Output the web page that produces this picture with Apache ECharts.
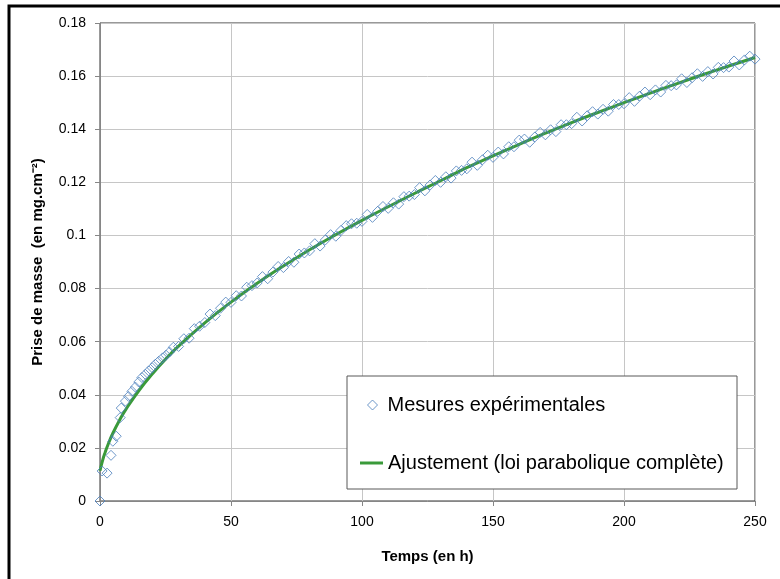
<!DOCTYPE html>
<html><head><meta charset="utf-8">
<script src="https://cdn.jsdelivr.net/npm/echarts@6/dist/echarts.min.js"></script>
<style>html,body{margin:0;padding:0;background:#fff}#c{width:780px;height:579px}</style>
</head><body><div id="c"></div>
<script>
// Measured mass gain (mg.cm-2) vs time (h)
const measureTimes = [0, 0.8, 2.7, 4.2, 4.9, 6.2, 7.7, 8.1, 9.7, 10.9, 12.2, 13.5, 14.8, 16.0, 17.3, 18.6, 19.9, 21.1, 22.4, 23.9, 25.2, 26.5,
  28, 30, 32, 34, 36, 38, 40, 42, 44, 46, 48, 50, 52, 54, 56, 58, 60, 62, 64, 66, 68, 70, 72, 74, 76, 78, 80,
  82, 84, 86, 88, 90, 92, 94, 96, 98, 100, 102, 104, 106, 108, 110, 112, 114, 116, 118, 120, 122, 124, 126, 128, 130,
  132, 134, 136, 138, 140, 142, 144, 146, 148, 150, 152, 154, 156, 158, 160, 162, 164, 166, 168, 170, 172, 174, 176, 178, 180,
  182, 184, 186, 188, 190, 192, 194, 196, 198, 200, 202, 204, 206, 208, 210, 212, 214, 216, 218, 220, 222, 224, 226, 228, 230,
  232, 234, 236, 238, 240, 242, 244, 246, 248, 250];
const measureValues = [0, 0.0113, 0.0105, 0.0172, 0.0225, 0.0244, 0.0314, 0.0350, 0.0376, 0.0394, 0.0413, 0.0429, 0.0448, 0.0465, 0.0477, 0.0490, 0.0502, 0.0515, 0.0526, 0.0539, 0.0549, 0.0561,
  0.0579, 0.0582, 0.0611, 0.0613, 0.0649, 0.0658, 0.0672, 0.0704, 0.0698, 0.0726, 0.0749, 0.0748, 0.0773, 0.0772, 0.0805, 0.0811, 0.0821, 0.0845, 0.0837, 0.0862, 0.0883, 0.0879, 0.0902, 0.0899, 0.0930, 0.0934, 0.0942,
  0.0969, 0.0960, 0.0983, 0.1003, 0.0997, 0.1019, 0.1037, 0.1044, 0.1046, 0.1053, 0.1079, 0.1068, 0.1091, 0.1109, 0.1102, 0.1123, 0.1118, 0.1146, 0.1148, 0.1154, 0.1180, 0.1168, 0.1190, 0.1207, 0.1200,
  0.1221, 0.1216, 0.1243, 0.1245, 0.1251, 0.1276, 0.1264, 0.1285, 0.1302, 0.1294, 0.1314, 0.1307, 0.1334, 0.1334, 0.1359, 0.1363, 0.1351, 0.1371, 0.1388, 0.1379, 0.1398, 0.1391, 0.1417, 0.1417, 0.1421,
  0.1445, 0.1431, 0.1451, 0.1466, 0.1457, 0.1475, 0.1468, 0.1493, 0.1493, 0.1496, 0.1519, 0.1505, 0.1525, 0.1540, 0.1530, 0.1548, 0.1540, 0.1565, 0.1564, 0.1567, 0.1590, 0.1576, 0.1594, 0.1609, 0.1599,
  0.1617, 0.1608, 0.1633, 0.1632, 0.1634, 0.1657, 0.1642, 0.1661, 0.1675, 0.1664];
// Fitted curve (complete parabolic law)
const fitTimes = [0, 1, 2, 3, 5, 7.5, 10, 15, 20, 25, 30, 40, 50, 60, 70, 80, 90, 100, 110, 120, 130, 140, 150, 160, 170, 180, 190, 200, 210, 220, 230, 240, 250];
const fitValues = [0.0114, 0.0153, 0.0184, 0.0211, 0.0257, 0.0305, 0.0347, 0.0418, 0.0479, 0.0534, 0.0583, 0.0671, 0.0749, 0.0820, 0.0885, 0.0946, 0.1003, 0.1057, 0.1108, 0.1158, 0.1206, 0.1255, 0.1300, 0.1343, 0.1385, 0.1425, 0.1463, 0.1500, 0.1536, 0.1571, 0.1605, 0.1638, 0.1670];
const seriesNames = ['Mesures expérimentales', 'Ajustement (loi parabolique complète)'];
const xAxisTitle = 'Temps (en h)';
const yAxisTitle = 'Prise de masse  (en mg.cm\u207B\u00B2)';
const xTickMin = 0, xTickMax = 250, xTickStep = 50;
const yTickMin = 0, yTickMax = 0.18, yTickStep = 0.02;

const FONT = 'Liberation Sans';
const chart = echarts.init(document.getElementById('c'), null, {renderer: 'canvas'});
const textBase = {fontFamily: FONT, color: '#000'};
chart.setOption({
  animation: false,
  backgroundColor: '#fff',
  grid: {left: 100, right: 25, top: 23, bottom: 78, show: true, borderColor: '#333', borderWidth: 1, backgroundColor: 'transparent'},
  xAxis: {
    type: 'value', min: xTickMin, max: xTickMax, interval: xTickStep,
    name: xAxisTitle, nameLocation: 'middle', nameGap: 48,
    nameTextStyle: Object.assign({}, textBase, {fontSize: 15, fontWeight: 'bold'}),
    axisLine: {show: true, onZero: false, lineStyle: {color: '#868686', width: 1}},
    axisTick: {show: true, length: 5, lineStyle: {color: '#868686'}},
    axisLabel: Object.assign({}, textBase, {fontSize: 14, margin: 14}),
    splitLine: {show: true, lineStyle: {color: '#c6c6c6', width: 1}}
  },
  yAxis: {
    type: 'value', min: yTickMin, max: yTickMax, interval: yTickStep,
    name: yAxisTitle, nameLocation: 'middle', nameGap: 55,
    nameTextStyle: Object.assign({}, textBase, {fontSize: 15, fontWeight: 'bold'}),
    axisLine: {show: true, onZero: false, lineStyle: {color: '#868686', width: 1}},
    axisTick: {show: true, length: 5, lineStyle: {color: '#868686'}},
    axisLabel: Object.assign({}, textBase, {fontSize: 14, margin: 14}),
    splitLine: {show: true, lineStyle: {color: '#c6c6c6', width: 1}}
  },
  legend: [
    {
      data: [{name: seriesNames[0], icon: 'diamond'}], orient: 'vertical', left: 367, top: 395,
      itemWidth: 10, itemHeight: 10, padding: 0, selectedMode: false,
      itemStyle: {color: '#fff', borderColor: '#4A7EBB', borderWidth: 1},
      textStyle: Object.assign({}, textBase, {fontSize: 20, padding: [0, 0, 0, 5]})
    },
    {
      data: [{name: seriesNames[1], icon: 'rect'}], orient: 'vertical', left: 360, top: 453,
      itemWidth: 23, itemHeight: 3, padding: 0, selectedMode: false,
      itemStyle: {color: '#3A9A3A', borderWidth: 0},
      textStyle: Object.assign({}, textBase, {fontSize: 20})
    }
  ],
  graphic: [
    {type: 'rect', z: 3, shape: {x: 347, y: 376, width: 390, height: 113}, style: {fill: '#fff', stroke: '#595959', lineWidth: 1}},
    {type: 'rect', z: 10, shape: {x: 9, y: 6, width: 800, height: 620}, style: {fill: 'none', stroke: '#000', lineWidth: 3}}
  ],
  series: [
    {
      name: seriesNames[0], type: 'scatter', symbol: 'diamond', symbolSize: 10,
      data: measureTimes.map((t, i) => [t, measureValues[i]]),
      itemStyle: {color: 'rgba(255,255,255,0)', borderColor: '#4A7EBB', borderWidth: 1},
      emphasis: {disabled: true}, z: 2
    },
    {
      name: seriesNames[1], type: 'line', symbol: 'none', smooth: true,
      data: fitTimes.map((t, i) => [t, fitValues[i]]),
      lineStyle: {color: '#3A9A3A', width: 3}, itemStyle: {color: '#3A9A3A'},
      emphasis: {disabled: true}, z: 2
    }
  ]
});
</script></body></html>
